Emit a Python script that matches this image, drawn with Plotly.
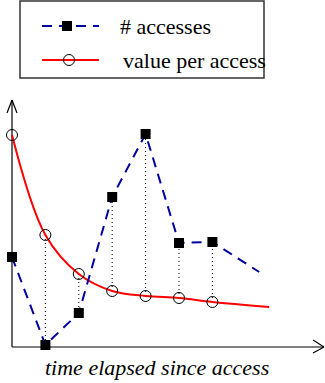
import plotly.graph_objects as go

W, H = 325, 383

# data (time steps since access)
times = [0, 1, 2, 3, 4, 5, 6]
accesses = [9.0, 0.2, 3.4, 15.0, 21.3, 10.4, 10.5]
value_per_access = [21.2, 11.2, 7.3, 5.6, 5.1, 4.9, 4.5]
access_tail = (7.4, 7.5)
value_tail = (7.7, 4.0)

labels = ["# accesses", "value per access"]
xlabel = "time elapsed since access"

BLUE = "#0000a0"
RED = "#ff0000"
SERIF = "Liberation Serif, Times New Roman, serif"


def P(px, py):
    # pixel position -> paper coords (plot area fills whole figure)
    return px / W, 1 - py / H


fig = go.Figure()

# dotted drop lines between the two series
dx, dy = [], []
for t, a, v in zip(times[1:], accesses[1:], value_per_access[1:]):
    dx += [t, t, None]
    dy += [v, a, None]
fig.add_trace(go.Scatter(x=dx, y=dy, mode="lines",
                         line=dict(color="black", width=1, dash="1px,3px"),
                         hoverinfo="skip", showlegend=False))

# value per access
fig.add_trace(go.Scatter(
    x=times + [value_tail[0]], y=value_per_access + [value_tail[1]],
    mode="lines", line=dict(color=RED, width=2, shape="spline", smoothing=1.0),
    showlegend=False, cliponaxis=False))
fig.add_trace(go.Scatter(
    x=times, y=value_per_access, mode="markers", name=labels[1],
    marker=dict(symbol="circle-open", size=11, color="black", line=dict(width=1)),
    showlegend=False, cliponaxis=False))

# number of accesses
fig.add_trace(go.Scatter(
    x=times + [access_tail[0]], y=accesses + [access_tail[1]],
    mode="lines", line=dict(color=BLUE, width=2, dash="10px,7px"),
    showlegend=False, cliponaxis=False))
fig.add_trace(go.Scatter(
    x=times, y=accesses, mode="markers", name=labels[0],
    marker=dict(symbol="square", size=10, color="black"),
    showlegend=False, cliponaxis=False))

shapes = []


def seg(p0, p1, color="black", width=1.2, dash="solid"):
    x0, y0 = P(*p0)
    x1, y1 = P(*p1)
    shapes.append(dict(type="line", xref="paper", yref="paper",
                       x0=x0, y0=y0, x1=x1, y1=y1, layer="below",
                       line=dict(color=color, width=width, dash=dash)))


# axes with open arrow heads
seg((12, 347), (12, 100))
seg((7, 113), (12, 100))
seg((17, 113), (12, 100))
seg((12, 347), (324, 347))
seg((313, 340), (324, 347))
seg((313, 353), (324, 347))

# legend box
x0, y0 = P(20, 1)
x1, y1 = P(264, 78)
shapes.append(dict(type="rect", xref="paper", yref="paper", x0=x0, y0=y0, x1=x1, y1=y1,
                   line=dict(color="#333333", width=1.5), fillcolor="rgba(0,0,0,0)"))
seg((42, 26), (99, 26), color=BLUE, width=2, dash="10px,7px")
seg((42, 60), (99, 60), color=RED, width=2)
x0, y0 = P(62, 21)
x1, y1 = P(72, 31)
shapes.append(dict(type="rect", xref="paper", yref="paper", x0=x0, y0=y0, x1=x1, y1=y1,
                   line=dict(width=0), fillcolor="black"))
x0, y0 = P(63.5, 54.5)
x1, y1 = P(74.5, 65.5)
shapes.append(dict(type="circle", xref="paper", yref="paper", x0=x0, y0=y0, x1=x1, y1=y1,
                   line=dict(color="black", width=1), fillcolor="rgba(0,0,0,0)"))

annotations = []
for text, (px, py) in zip(labels, [(118, 26), (121, 60)]):
    ax, ay = P(px, py)
    annotations.append(dict(text=text, x=ax, y=ay, xref="paper", yref="paper",
                            xanchor="left", yanchor="middle", showarrow=False,
                            font=dict(family=SERIF, size=22, color="black")))
ax, ay = P(157, 367)
annotations.append(dict(text=xlabel, x=ax, y=ay, xref="paper", yref="paper",
                        xanchor="center", yanchor="middle", showarrow=False,
                        font=dict(family=SERIF, size=22, color="black", style="italic")))

# 1 time step = 33.4 px, 1 value unit = 10 px; origin at pixel (12, 347)
fig.update_layout(
    width=W, height=H,
    margin=dict(l=0, r=0, t=0, b=0),
    paper_bgcolor="white", plot_bgcolor="white",
    xaxis=dict(range=[-12 / 33.4, (W - 12) / 33.4], visible=False),
    yaxis=dict(range=[(347 - H) / 10, 347 / 10], visible=False),
    shapes=shapes, annotations=annotations,
)

fig.write_html("out.html", config={"displayModeBar": False},
               post_script="document.body.style.margin='0';")
